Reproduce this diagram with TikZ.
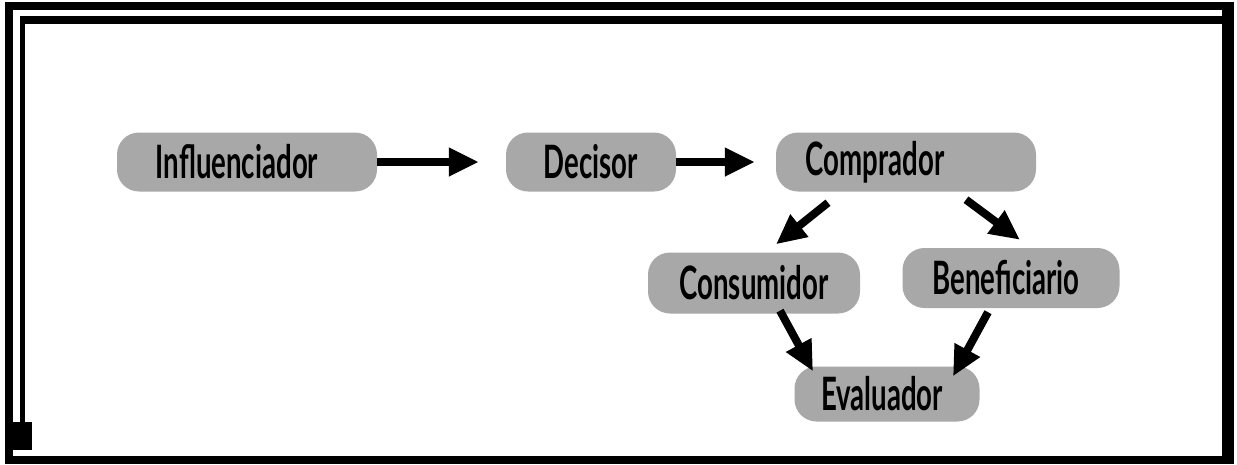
\documentclass[tikz,border=0pt]{standalone}
\usepackage{fontspec}
\usepackage{tikz}
\usetikzlibrary{arrows.meta}
\newfontfamily\rolefont{Lato}[FakeStretch=0.6]
\definecolor{rolegray}{RGB}{168,168,168}

\tikzset{
  rolebox/.style={fill=rolegray,rounded corners=22pt,minimum height=59pt,
    inner sep=0pt,font=\rolefont\bfseries\fontsize{46}{48}\selectfont},
  rolearrow/.style={line width=8pt,-{Triangle[length=30pt,width=27pt]}}
}

\begin{document}
\begin{tikzpicture}[x=1pt,y=-1pt]
\useasboundingbox (0,0) rectangle (1237,464);
% frame
\draw[line width=8pt] (9,6) rectangle (1230,460);
\draw[line width=12pt] (1228,6) -- (1228,460);
\draw[line width=8pt] (20,20) -- (1224,20);
\draw[line width=5pt] (22,20) -- (22,436);
\fill (13,422) rectangle (32,450);

\node [rolebox,minimum width=260pt] (infl) at (247,162) {Influenciador\hspace*{20pt}};
\node [rolebox,minimum width=170pt] (dec) at (591,162) {Decisor};
\node [rolebox,minimum width=260pt] (compr) at (906,162) {Comprador\hspace*{62pt}};
\node [rolebox,minimum width=212pt,minimum height=61pt] (cons) at (754,283) {Consumidor};
\node [rolebox,minimum width=217pt,minimum height=60pt] (benef) at (1011,278) {Beneficiario\hspace*{10pt}};
\node [rolebox,minimum width=185pt,minimum height=55pt] (eval) at (887,394) {Evaluador\hspace*{10pt}};

\draw [rolearrow,shorten >=27pt] (infl) -- (dec);
\draw [rolearrow,shorten >=21pt] (dec) -- (compr);
\draw [rolearrow] ([xshift=-78pt,yshift=-11pt]compr.south) -- ([xshift=22pt,yshift=8pt]cons.north);
\draw [rolearrow] ([xshift=60pt,yshift=-8pt]compr.south) -- ([xshift=9pt,yshift=8pt]benef.north);
\draw [rolearrow] ([xshift=26pt,yshift=3pt]cons.south) -- ([xshift=-74pt,yshift=-5pt]eval.north);
\draw [rolearrow] ([xshift=-23pt,yshift=-4pt]benef.south) -- ([xshift=66pt,yshift=-10pt]eval.north);
\end{tikzpicture}
\end{document}
